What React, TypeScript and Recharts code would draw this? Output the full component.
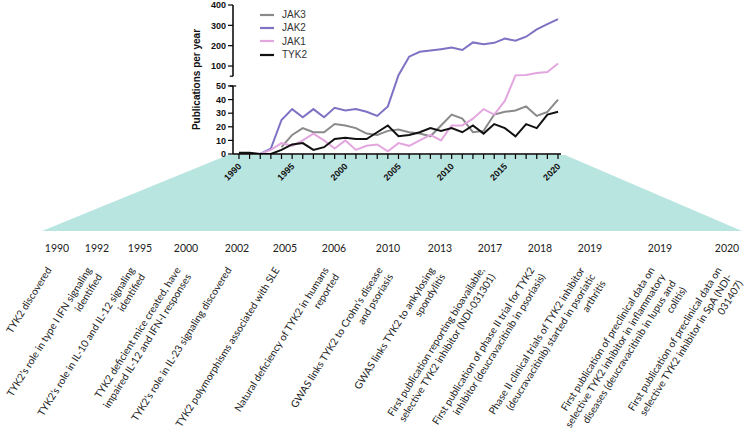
import React from 'react';
import { LineChart, Line, XAxis, YAxis, ReferenceLine, Legend } from 'recharts';

// ---------- data ----------
const years = [1990, 1991, 1992, 1993, 1994, 1995, 1996, 1997, 1998, 1999, 2000, 2001, 2002, 2003, 2004, 2005, 2006, 2007, 2008, 2009, 2010, 2011, 2012, 2013, 2014, 2015, 2016, 2017, 2018, 2019, 2020];
const jak3 = [null, null, null, null, 5, 14, 19, 16, 16, 22, 21, 19, 15, 14, 17, 18, 16, 15, 13, 21, 29, 26, 16, 17, 29, 31, 32, 35, 28, 31, 40];
const jak2 = [null, null, 0, 4, 25, 33, 27, 33, 27, 34, 32, 33, 31, 28, 35, 55, 146, 170, 176, 183, 191, 179, 216, 207, 214, 235, 224, 244, 280, 306, 331];
const jak1 = [null, null, 0, 3, 8, 6, 10, 15, 10, 4, 10, 3, 6, 7, 2, 8, 6, 10, 14, 10, 21, 21, 26, 33, 29, 39, 54, 56, 66, 70, 112];
const tyk2 = [1, 1, 0, 0, 3, 7, 8, 3, 5, 11, 12, 11, 11, 16, 21, 13, 14, 16, 19, 17, 19, 16, 21, 15, 22, 19, 13, 22, 19, 29, 31];

const seriesNames = ['JAK3', 'JAK2', 'JAK1', 'TYK2'];
const lowerTicks = [0, 10, 20, 30, 40, 50];
const upperTicks = [100, 200, 300, 400];
const xLabelYears = [1990, 1995, 2000, 2005, 2010, 2015, 2020];

const milestoneYears = ['1990', '1992', '1995', '2000', '2002', '2005', '2006', '2010', '2013', '2017', '2018', '2019', '2019', '2020'];
const milestoneLabels = [
  ['TYK2 discovered'],
  ['TYK2\u2019s role in type I IFN signaling', 'identified'],
  ['TYK2\u2019s role in IL-10 and IL-12 signaling', 'identified'],
  ['TYK2 deficient mice created, have', 'impaired IL-12 and IFN-I responses'],
  ['TYK2\u2019s role in IL-23 signaling discovered'],
  ['TYK2 polymorphisms associated with SLE'],
  ['Natural deficiency of TYK2 in humans', 'reported'],
  ['GWAS links TYK2 to Crohn\u2019s disease', 'and psoriasis'],
  ['GWAS links TYK2 to ankylosing', 'spondylitis'],
  ['First publication reporting bioavailable,', 'selective TYK2 inhibitor (NDI-031301)'],
  ['First publication of phase II trial for TYK2', 'inhibitor (deucravacitinib in psoriasis)'],
  ['Phase II clinical trials of TYK2 inhibitor', '(deucravacitinib) started in psoriatic', 'arthritis'],
  ['First publication of preclinical data on', 'selective TYK2 inhibitor in inflammatory', 'diseases (deucravacitinib in lupus and', 'colitis)'],
  ['First publication of preclinical data on', 'selective TYK2 inhibitor in SpA (NDI-', '031407)'],
];

// ---------- broken-axis scale ----------
const BREAK = 50;
const GAP = 7.2;
const UPPER_RATIO = 0.1495;
const toDisplay = (v: number | null) =>
  v === null ? null : v <= BREAK ? v : BREAK + GAP + (v - BREAK) * UPPER_RATIO;

const colors: Record<string, string> = {
  JAK3: '#8a8a8a',
  JAK2: '#7d72c3',
  JAK1: '#e3a6df',
  TYK2: '#111111',
};

const seriesValues: Record<string, (number | null)[]> = { JAK3: jak3, JAK2: jak2, JAK1: jak1, TYK2: tyk2 };

const data = years.map((y, i) => {
  const row: any = { year: y };
  seriesNames.forEach((n) => {
    row[n] = toDisplay(seriesValues[n][i]);
  });
  return row;
});

const yTickValues = [...lowerTicks, ...upperTicks].map((v) => toDisplay(v) as number);
const yTickLabel = (d: number) => {
  const all = [...lowerTicks, ...upperTicks];
  const idx = yTickValues.findIndex((t) => Math.abs(t - d) < 1e-6);
  return idx >= 0 ? String(all[idx]) : '';
};

const XMIN = 1989.44;
const XMAX = 2020.28;

const XTick = (props: any) => {
  const { x, y, payload } = props;
  if (!xLabelYears.includes(payload.value)) return null;
  return (
    <g transform={`translate(${x + 3},${y + 6}) rotate(-45)`}>
      <text x={0} y={0} textAnchor="end" fontSize={9} fontWeight="bold" fontFamily="Arial, Liberation Sans, sans-serif" fill="#111">
        {payload.value}
      </text>
    </g>
  );
};

const LegendContent = () => (
  <div style={{ fontFamily: 'Arial, Liberation Sans, sans-serif', fontSize: 10, color: '#333' }}>
    {seriesNames.map((n) => (
      <div key={n} style={{ display: 'flex', alignItems: 'center', height: 13.3 }}>
        <svg width={14} height={4} style={{ marginRight: 8 }}>
          <line x1={0} y1={2} x2={14} y2={2} stroke={colors[n]} strokeWidth={2.2} />
        </svg>
        <span>{n}</span>
      </div>
    ))}
  </div>
);

export default function App() {
  const milestoneX = [57, 97, 140, 186, 237, 285, 334, 388, 440, 490, 540, 590, 660, 727];
  const timelineFont = 'Lato, "Open Sans", sans-serif';
  return (
    <div style={{ position: 'absolute', left: 0, top: 0, width: 752, height: 447, background: '#fff' }}>
      <svg width={752} height={447} style={{ position: 'absolute', left: 0, top: 0 }}>
        <polygon points="228,155 565,155 742,231 42,231" fill="#b9e5e0" />
        {milestoneYears.map((yr, i) => (
          <text key={'y' + i} x={milestoneX[i]} y={252} textAnchor="middle" fontSize={10.5} fontFamily={timelineFont} fill="#222">
            {yr}
          </text>
        ))}
        {milestoneLabels.map((lines, i) => {
          const ax = milestoneX[i] - 5;
          const ay = 270;
          return (
            <text key={'l' + i} transform={`rotate(-58 ${ax} ${ay})`} fontSize={10.2} fontFamily={timelineFont} fill="#222" textAnchor="end">
              {lines.map((ln, j) => (
                <tspan key={j} x={ax} y={ay + j * 12.5}>
                  {ln}
                </tspan>
              ))}
            </text>
          );
        })}
      </svg>
      <div style={{ position: 'absolute', left: 0, top: 0 }}>
        <LineChart width={752} height={200} data={data} margin={{ top: 5, right: 191, bottom: 16, left: 160 }}>
          <XAxis
            dataKey="year"
            type="number"
            domain={[XMIN, XMAX]}
            ticks={years}
            interval={0}
            tick={<XTick />}
            tickSize={5}
            height={30}
            axisLine={{ stroke: '#000', strokeWidth: 1.5 }}
            tickLine={{ stroke: '#000', strokeWidth: 1.2 }}
            allowDataOverflow
          />
          <YAxis
            type="number"
            domain={[0, toDisplay(400) as number]}
            ticks={yTickValues}
            interval={0}
            tickFormatter={yTickLabel}
            width={73}
            tickSize={5}
            tickMargin={2}
            axisLine={false}
            tickLine={{ stroke: '#000', strokeWidth: 1.2 }}
            tick={{ fontSize: 9, fontWeight: 'bold', fill: '#111', fontFamily: 'Arial, Liberation Sans, sans-serif' }}
            allowDataOverflow
            label={{
              value: 'Publications per year',
              angle: -90,
              position: 'center',
              style: { fontSize: 10, fontWeight: 'bold', fill: '#111', fontFamily: 'Arial, Liberation Sans, sans-serif' },
            }}
          />
          <ReferenceLine segment={[{ x: XMIN, y: 0 }, { x: XMIN, y: BREAK }]} stroke="#000" strokeWidth={1.5} ifOverflow="visible" />
          <ReferenceLine segment={[{ x: XMIN - 0.3, y: BREAK }, { x: XMIN + 0.3, y: BREAK }]} stroke="#000" strokeWidth={1.2} ifOverflow="visible" />
          <ReferenceLine segment={[{ x: XMIN, y: toDisplay(BREAK + 0.01) as number }, { x: XMIN, y: toDisplay(400) as number }]} stroke="#000" strokeWidth={1.5} ifOverflow="visible" />
          <ReferenceLine segment={[{ x: XMIN - 0.3, y: toDisplay(BREAK + 0.01) as number }, { x: XMIN, y: toDisplay(BREAK + 0.01) as number }]} stroke="#000" strokeWidth={1.2} ifOverflow="visible" />
          <Legend
            layout="vertical"
            align="center"
            verticalAlign="middle"
            content={<LegendContent />}
            wrapperStyle={{ left: 260, top: 8, width: 80, height: 56 }}
          />
          {seriesNames.map((n) => (
            <Line key={n} type="linear" dataKey={n} stroke={colors[n]} strokeWidth={2} dot={false} isAnimationActive={false} connectNulls={false} />
          ))}
        </LineChart>
      </div>
    </div>
  );
}
